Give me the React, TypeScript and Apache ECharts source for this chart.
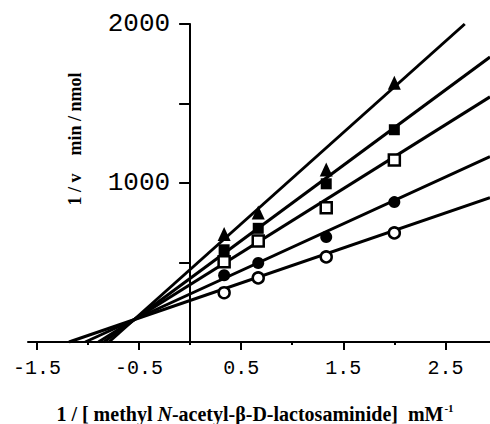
import React, { useEffect, useRef } from "react";
import * as echarts from "echarts";

// 1/[S] values (mM^-1)
const xValues = [0.333, 0.667, 1.333, 2.0];
// 1/v values (min/nmol) per inhibitor level
const triangleVals = [680, 815, 1085, 1630];
const filledSquareVals = [580, 715, 995, 1335];
const openSquareVals = [505, 635, 845, 1145];
const filledCircleVals = [420, 497, 660, 880];
const openCircleVals = [310, 403, 535, 686];
// fitted lines: slope and intercept
const fitSlopes = [574, 474, 402, 294, 220];
const fitIntercepts = [456, 400, 361, 302, 261];

const majorXTicks = [-1.5, -0.5, 0.5, 1.5, 2.5];
const minorXTicks = [-1, 0, 1, 2];
const yLabelValues = [1000, 2000];

const X_MIN = -1.588;
const X_MAX = 2.937;
const Y_MIN = 0;
const Y_MAX = 2000;

const GRID_LEFT = 28;
const GRID_RIGHT = 0;
const CHART_W = 490;

export default function App() {
  const ref = useRef<HTMLDivElement>(null);
  useEffect(() => {
    document.body.style.margin = "0";
    const chart = echarts.init(ref.current!, null, { renderer: "svg" });

    const lineSeries = fitSlopes.map((m, i) => {
      const b = fitIntercepts[i];
      const x0 = -b / m;
      const x1 = Math.min(X_MAX, (Y_MAX - b) / m);
      return {
        type: "line",
        data: [
          [x0, 0],
          [x1, b + m * x1],
        ],
        symbol: "none",
        lineStyle: { color: "#000", width: 3 },
        z: 2,
      };
    });

    const mk = (vals: number[], symbol: string, size: any, fill: string) => ({
      type: "scatter",
      data: xValues.map((x, i) => [x, vals[i]]),
      symbol,
      symbolSize: size,
      itemStyle: { color: fill, opacity: 1, borderColor: "#000", borderWidth: fill === "#fff" ? 2.5 : 0 },
      z: 3,
    });

    // pixel position of x = 0 inside the grid, used to place the y axis
    const plotW = CHART_W - GRID_LEFT - GRID_RIGHT;
    const zeroOffset = ((0 - X_MIN) / (X_MAX - X_MIN)) * plotW;

    chart.setOption({
      animation: false,
      grid: { left: GRID_LEFT, right: GRID_RIGHT, top: 24, bottom: 82, outerBoundsMode: "none", containLabel: false },
      xAxis: [
        {
          type: "value",
          min: X_MIN,
          max: X_MAX,
          position: "bottom",
          axisLine: { show: true, onZero: false, lineStyle: { color: "#000", width: 2 } },
          axisTick: { show: true, customValues: majorXTicks, length: 8, lineStyle: { color: "#000", width: 2 } },
          axisLabel: {
            customValues: majorXTicks,
            formatter: (v: number) => v.toFixed(1),
            color: "#000",
            fontFamily: "Liberation Mono",
            fontSize: 20,
            margin: 16,
          },
          splitLine: { show: false },
        },
        {
          type: "value",
          min: X_MIN,
          max: X_MAX,
          position: "bottom",
          axisLine: { show: false, onZero: false },
          axisTick: { show: true, customValues: minorXTicks, length: 3, lineStyle: { color: "#000", width: 2 } },
          axisLabel: { show: false },
          splitLine: { show: false },
        },
      ],
      yAxis: {
        type: "value",
        min: Y_MIN,
        max: Y_MAX,
        interval: 500,
        position: "left",
        offset: -zeroOffset,
        axisLine: { show: true, onZero: false, lineStyle: { color: "#000", width: 2 } },
        axisTick: { show: true, length: 11, lineStyle: { color: "#000", width: 2 } },
        axisLabel: {
          formatter: (v: number) => (yLabelValues.includes(v) ? String(v) : ""),
          color: "#000",
          fontFamily: "Liberation Mono",
          fontSize: 26,
          margin: 20,
        },
        splitLine: { show: false },
      },
      series: [
        ...lineSeries,
        mk(triangleVals, "triangle", [13, 14], "#000"),
        mk(filledSquareVals, "rect", 11, "#000"),
        mk(openSquareVals, "rect", 11, "#fff"),
        mk(filledCircleVals, "circle", 12, "#000"),
        mk(openCircleVals, "circle", 11, "#fff"),
      ],
      graphic: [
        {
          type: "text",
          x: 75,
          y: 139,
          rotation: Math.PI / 2,
          style: {
            text: "1 / v    min / nmol",
            font: "bold 18px 'Liberation Serif'",
            fill: "#000",
            align: "center",
            verticalAlign: "middle",
          },
        },
        {
          type: "text",
          x: 255,
          y: 414,
          style: {
            text: "{a|1 / [ methyl }{i|N}{a|-acetyl-β-D-lactosaminide]  mM}{s|-1}",
            align: "center",
            verticalAlign: "middle",
            rich: {
              a: { font: "bold 20px 'Liberation Serif'", fill: "#000" },
              i: { font: "italic bold 20px 'Liberation Serif'", fill: "#000" },
              s: { font: "bold 11px 'Liberation Serif'", fill: "#000", verticalAlign: "top", padding: [0, 0, 12, 1] },
            },
          },
        },
      ],
    });
    return () => chart.dispose();
  }, []);
  return <div ref={ref} style={{ width: 490, height: 424 }} />;
}
